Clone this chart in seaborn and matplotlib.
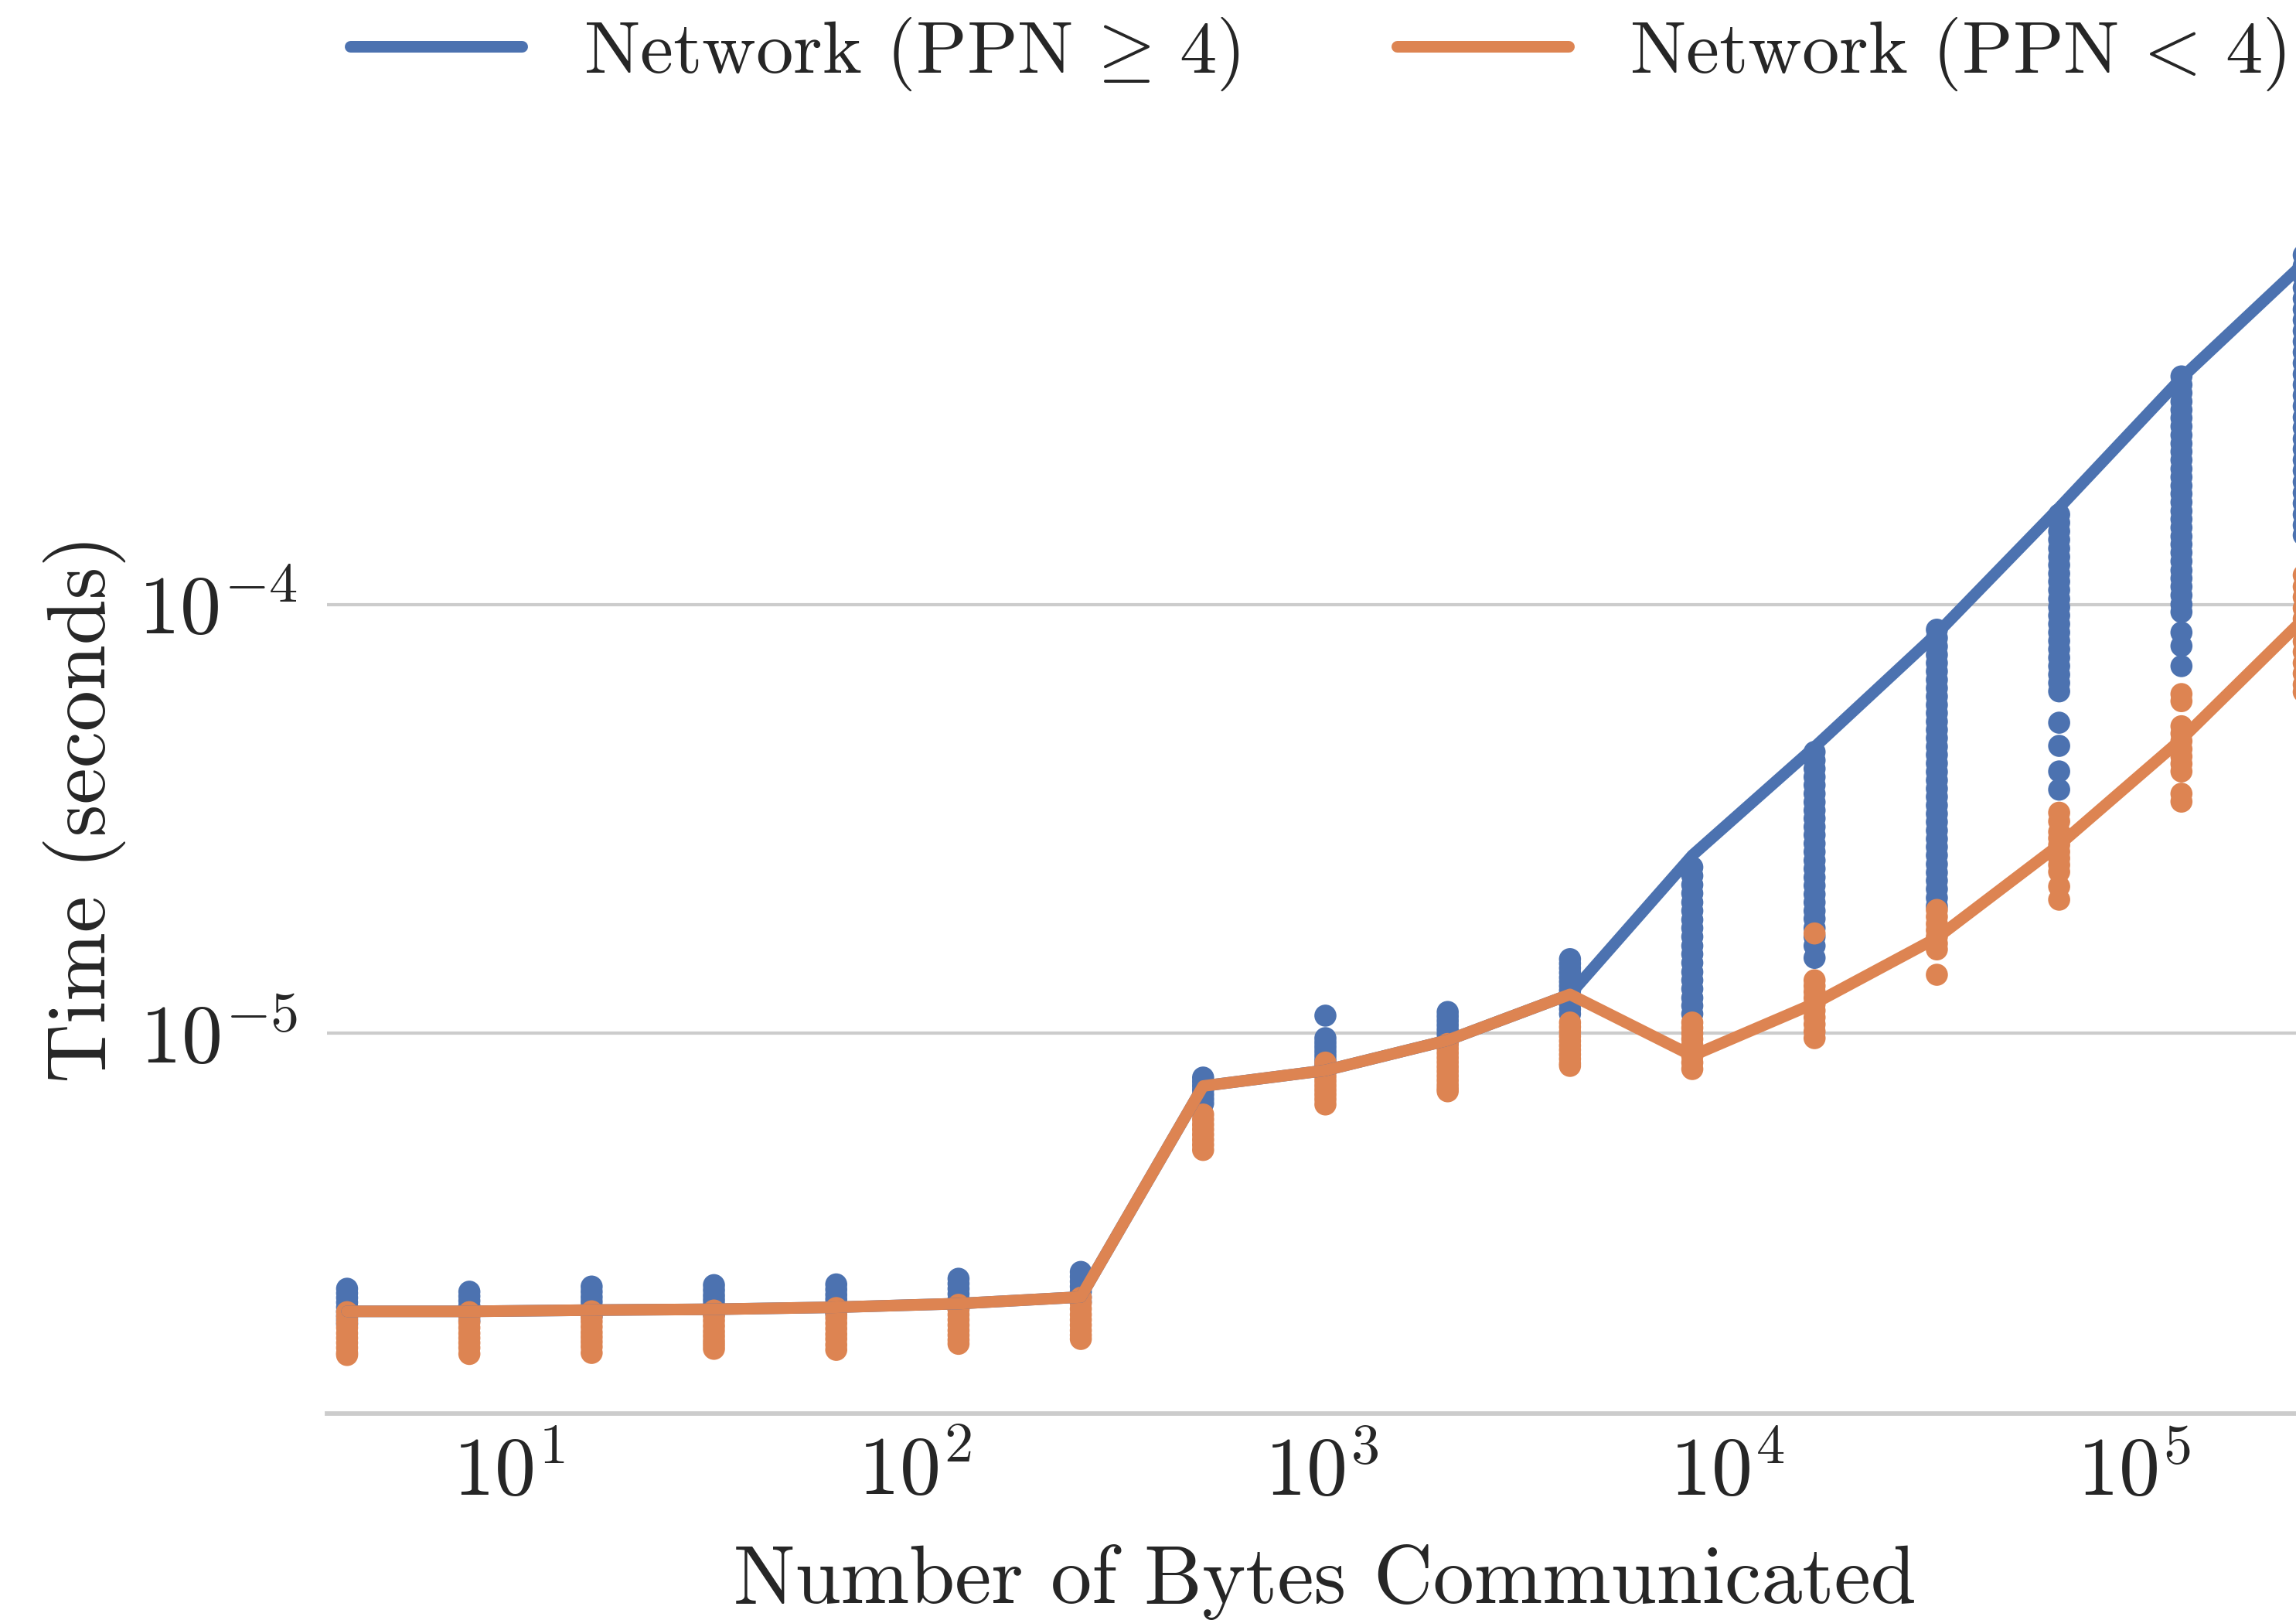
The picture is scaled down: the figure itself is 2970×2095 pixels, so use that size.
import matplotlib
matplotlib.use("Agg")
import matplotlib.pyplot as plt
import pandas as pd
import seaborn as sns
from matplotlib.ticker import NullLocator, NullFormatter

# ---------------- data ----------------
sizes = [4, 8, 16, 32, 64, 128, 256, 512, 1024, 2048, 4096,
         8192, 16384, 32768, 65536, 131072, 262144]

label_hi = r"Network (PPN$\,\geq\,$4)"
label_lo = r"Network (PPN$\,<\,$4)"

line_hi = [2.25e-6, 2.25e-6, 2.265e-6, 2.275e-6, 2.30e-6, 2.345e-6, 2.43e-6,
           7.54e-6, 8.2e-6, 9.64e-6, 1.233e-5,
           2.60e-5, 4.65e-5, 8.55e-5, 1.68e-4, 3.37e-4, 6.24e-4]
line_lo = [2.25e-6, 2.25e-6, 2.265e-6, 2.275e-6, 2.30e-6, 2.345e-6, 2.43e-6,
           7.54e-6, 8.2e-6, 9.64e-6, 1.233e-5,
           8.87e-6, 1.175e-5, 1.67e-5, 2.75e-5, 4.85e-5, 9.25e-5]

pts_hi = [
    [2.54e-6, 2.48e-6, 2.42e-6, 2.36e-6, 2.30e-6, 2.25e-6, 2.20e-6, 2.15e-6, 2.10e-6],
    [2.50e-6, 2.44e-6, 2.38e-6, 2.32e-6, 2.26e-6, 2.20e-6, 2.14e-6],
    [2.57e-6, 2.50e-6, 2.43e-6, 2.37e-6, 2.31e-6, 2.25e-6, 2.19e-6],
    [2.59e-6, 2.52e-6, 2.45e-6, 2.39e-6, 2.33e-6, 2.27e-6, 2.21e-6],
    [2.60e-6, 2.53e-6, 2.46e-6, 2.40e-6, 2.34e-6, 2.28e-6, 2.22e-6],
    [2.68e-6, 2.61e-6, 2.54e-6, 2.47e-6, 2.40e-6, 2.34e-6, 2.28e-6],
    [2.78e-6, 2.71e-6, 2.64e-6, 2.57e-6, 2.50e-6, 2.43e-6, 2.37e-6],
    [7.89e-6, 7.72e-6, 7.55e-6, 7.38e-6, 7.20e-6, 7.03e-6, 6.87e-6],
    [1.10e-5, 9.75e-6, 9.52e-6, 9.30e-6, 9.08e-6, 8.87e-6, 8.66e-6, 8.45e-6],
    [1.122e-5, 1.096e-5, 1.07e-5, 1.045e-5, 1.02e-5, 9.96e-6, 9.72e-6, 9.50e-6],
    [1.49e-5, 1.455e-5, 1.42e-5, 1.385e-5, 1.35e-5, 1.32e-5, 1.29e-5, 1.26e-5,
     1.23e-5, 1.20e-5, 1.17e-5, 1.14e-5, 1.11e-5],
    [2.44e-5, 2.33e-5, 2.22e-5, 2.12e-5, 2.02e-5, 1.93e-5, 1.84e-5, 1.76e-5,
     1.68e-5, 1.60e-5, 1.53e-5, 1.46e-5, 1.39e-5, 1.33e-5, 1.27e-5, 1.21e-5,
     1.16e-5, 1.11e-5],
    [4.53e-5, 4.33e-5, 4.14e-5, 3.96e-5, 3.79e-5, 3.62e-5, 3.46e-5, 3.31e-5,
     3.17e-5, 3.03e-5, 2.90e-5, 2.77e-5, 2.65e-5, 2.53e-5, 2.42e-5, 2.31e-5,
     2.21e-5, 2.11e-5, 2.02e-5, 1.93e-5, 1.85e-5, 1.76e-5, 1.68e-5, 1.60e-5,
     1.50e-5],
    [8.73e-5, 8.35e-5, 7.98e-5, 7.63e-5, 7.30e-5, 6.98e-5, 6.67e-5, 6.38e-5,
     6.10e-5, 5.83e-5, 5.58e-5, 5.33e-5, 5.10e-5, 4.88e-5, 4.66e-5, 4.46e-5,
     4.26e-5, 4.07e-5, 3.89e-5, 3.72e-5, 3.56e-5, 3.40e-5, 3.25e-5, 3.11e-5,
     2.97e-5, 2.84e-5, 2.72e-5, 2.60e-5, 2.48e-5, 2.37e-5, 2.27e-5, 2.17e-5,
     2.07e-5, 1.98e-5],
    [1.62e-4, 1.55e-4, 1.48e-4, 1.415e-4, 1.35e-4, 1.29e-4, 1.235e-4, 1.18e-4,
     1.13e-4, 1.08e-4, 1.03e-4, 9.85e-5, 9.42e-5, 9.0e-5, 8.6e-5, 8.22e-5,
     7.86e-5, 7.51e-5, 7.18e-5, 6.86e-5, 6.56e-5, 6.27e-5, 5.30e-5, 4.68e-5,
     4.08e-5, 3.70e-5],
    [3.40e-4, 3.25e-4, 3.11e-4, 2.97e-4, 2.84e-4, 2.72e-4, 2.60e-4, 2.48e-4,
     2.37e-4, 2.27e-4, 2.17e-4, 2.07e-4, 1.98e-4, 1.89e-4, 1.81e-4, 1.73e-4,
     1.65e-4, 1.58e-4, 1.51e-4, 1.44e-4, 1.38e-4, 1.32e-4, 1.26e-4, 1.20e-4,
     1.15e-4, 1.10e-4, 1.05e-4, 1.0e-4, 9.6e-5, 8.6e-5, 8.0e-5, 7.18e-5],
    [6.52e-4, 6.15e-4, 5.80e-4, 5.47e-4, 5.16e-4, 4.87e-4, 4.60e-4, 4.34e-4,
     4.10e-4, 3.87e-4, 3.65e-4, 3.44e-4, 3.25e-4, 3.07e-4, 2.90e-4, 2.73e-4,
     2.58e-4, 2.43e-4, 2.30e-4, 2.17e-4, 2.05e-4, 1.93e-4, 1.82e-4, 1.72e-4,
     1.62e-4, 1.53e-4, 1.45e-4],
]

pts_lo = [
    [2.24e-6, 2.18e-6, 2.12e-6, 2.06e-6, 2.00e-6, 1.95e-6, 1.90e-6, 1.85e-6, 1.80e-6, 1.78e-6],
    [2.24e-6, 2.18e-6, 2.12e-6, 2.06e-6, 2.00e-6, 1.95e-6, 1.90e-6, 1.85e-6, 1.79e-6],
    [2.25e-6, 2.19e-6, 2.13e-6, 2.07e-6, 2.01e-6, 1.96e-6, 1.91e-6, 1.86e-6, 1.80e-6],
    [2.26e-6, 2.20e-6, 2.14e-6, 2.08e-6, 2.02e-6, 1.97e-6, 1.92e-6, 1.88e-6, 1.84e-6],
    [2.29e-6, 2.23e-6, 2.17e-6, 2.11e-6, 2.05e-6, 1.99e-6, 1.94e-6, 1.88e-6, 1.83e-6],
    [2.33e-6, 2.27e-6, 2.21e-6, 2.15e-6, 2.09e-6, 2.03e-6, 1.98e-6, 1.93e-6, 1.89e-6],
    [2.42e-6, 2.35e-6, 2.28e-6, 2.21e-6, 2.15e-6, 2.09e-6, 2.03e-6, 1.98e-6, 1.94e-6],
    [6.47e-6, 6.30e-6, 6.13e-6, 5.97e-6, 5.81e-6, 5.65e-6, 5.50e-6, 5.35e-6],
    [8.55e-6, 8.34e-6, 8.14e-6, 7.94e-6, 7.75e-6, 7.56e-6, 7.38e-6, 7.20e-6, 7.02e-6, 6.83e-6],
    [9.45e-6, 9.22e-6, 9.0e-6, 8.78e-6, 8.57e-6, 8.36e-6, 8.16e-6, 7.96e-6,
     7.77e-6, 7.58e-6, 7.43e-6, 7.33e-6],
    [1.06e-5, 1.035e-5, 1.01e-5, 9.85e-6, 9.6e-6, 9.37e-6, 9.15e-6, 8.93e-6,
     8.72e-6, 8.51e-6, 8.40e-6],
    [1.06e-5, 1.03e-5, 1.0e-5, 9.7e-6, 9.4e-6, 9.12e-6, 8.85e-6, 8.55e-6, 8.26e-6],
    [1.71e-5, 1.33e-5, 1.29e-5, 1.25e-5, 1.21e-5, 1.17e-5, 1.13e-5, 1.09e-5,
     1.05e-5, 1.01e-5, 9.75e-6],
    [1.94e-5, 1.87e-5, 1.80e-5, 1.74e-5, 1.68e-5, 1.62e-5, 1.57e-5, 1.37e-5],
    [3.27e-5, 3.12e-5, 2.95e-5, 2.85e-5, 2.75e-5, 2.65e-5, 2.56e-5, 2.47e-5,
     2.38e-5, 2.20e-5, 2.05e-5],
    [6.18e-5, 5.95e-5, 5.20e-5, 5.0e-5, 4.8e-5, 4.6e-5, 4.42e-5, 4.25e-5,
     4.08e-5, 3.62e-5, 3.47e-5],
    [1.17e-4, 1.10e-4, 1.04e-4, 9.8e-5, 9.25e-5, 8.7e-5, 8.2e-5, 7.75e-5,
     7.3e-5, 6.9e-5, 6.5e-5, 6.25e-5],
]

x_limits = (3.57, 2.912e5)
y_limits = (1.30e-6, 8.57e-4)

# ---------------- tables ----------------
rows = []
for lab, groups in ((label_hi, pts_hi), (label_lo, pts_lo)):
    for s, vals in zip(sizes, groups):
        for v in vals:
            rows.append((s, v, lab))
df_pts = pd.DataFrame(rows, columns=["bytes", "time", "series"])

df_line = pd.DataFrame({
    "bytes": sizes + sizes,
    "time": line_hi + line_lo,
    "series": [label_hi] * len(sizes) + [label_lo] * len(sizes),
})

# ---------------- style ----------------
sns.set_theme(style="whitegrid")
plt.rcParams["font.family"] = "serif"
plt.rcParams["font.serif"] = ["cmr10"]
plt.rcParams["mathtext.fontset"] = "cm"
plt.rcParams["axes.formatter.use_mathtext"] = True
plt.rcParams["axes.unicode_minus"] = True

deep = sns.color_palette("deep")
palette = {label_hi: deep[0], label_lo: deep[1]}
order = [label_hi, label_lo]

W, H = 2970, 2095
fig = plt.figure(figsize=(W / 300, H / 300), dpi=300)
ax = fig.add_axes([423 / W, 1 - 1828 / H, (3004 - 423) / W, (1828 - 264) / H])

sns.scatterplot(data=df_pts, x="bytes", y="time", hue="series", hue_order=order,
                palette=palette, s=47, linewidth=0, legend=False, ax=ax, zorder=2)
sns.lineplot(data=df_line, x="bytes", y="time", hue="series", hue_order=order,
             palette=palette, linewidth=3.6, errorbar=None, ax=ax, zorder=3)

ax.set_xscale("log")
ax.set_yscale("log")
ax.set_xlim(*x_limits)
ax.set_ylim(*y_limits)
ax.xaxis.set_minor_locator(NullLocator())
ax.yaxis.set_minor_locator(NullLocator())
ax.xaxis.set_minor_formatter(NullFormatter())
ax.yaxis.set_minor_formatter(NullFormatter())

ax.xaxis.grid(False)
ax.yaxis.grid(True, which="major", color="#cccccc", linewidth=1.0)
for side in ("left", "top", "right"):
    ax.spines[side].set_visible(False)
ax.spines["bottom"].set_color("#cccccc")
ax.spines["bottom"].set_linewidth(1.4)

ax.tick_params(axis="both", which="both", length=0, colors="#262626")
ax.tick_params(axis="x", pad=7, labelsize=25.5)
ax.tick_params(axis="y", pad=9, labelsize=25.5)

ax.set_xlabel("Number of Bytes Communicated", fontsize=25.5, labelpad=10, color="#262626")
ax.set_ylabel("Time (seconds)", fontsize=25.5, labelpad=4, color="#262626")

handles, labels = ax.get_legend_handles_labels()
leg = ax.legend(handles, labels, loc="center", bbox_to_anchor=(1705 / W, 1 - 70 / H),
                bbox_transform=fig.transFigure, ncol=2, frameon=False, fontsize=23.2,
                handlelength=2.3, handletextpad=0.82, columnspacing=2.1)
for t in leg.get_texts():
    t.set_color("#262626")

fig.savefig("out.png", dpi=300)
